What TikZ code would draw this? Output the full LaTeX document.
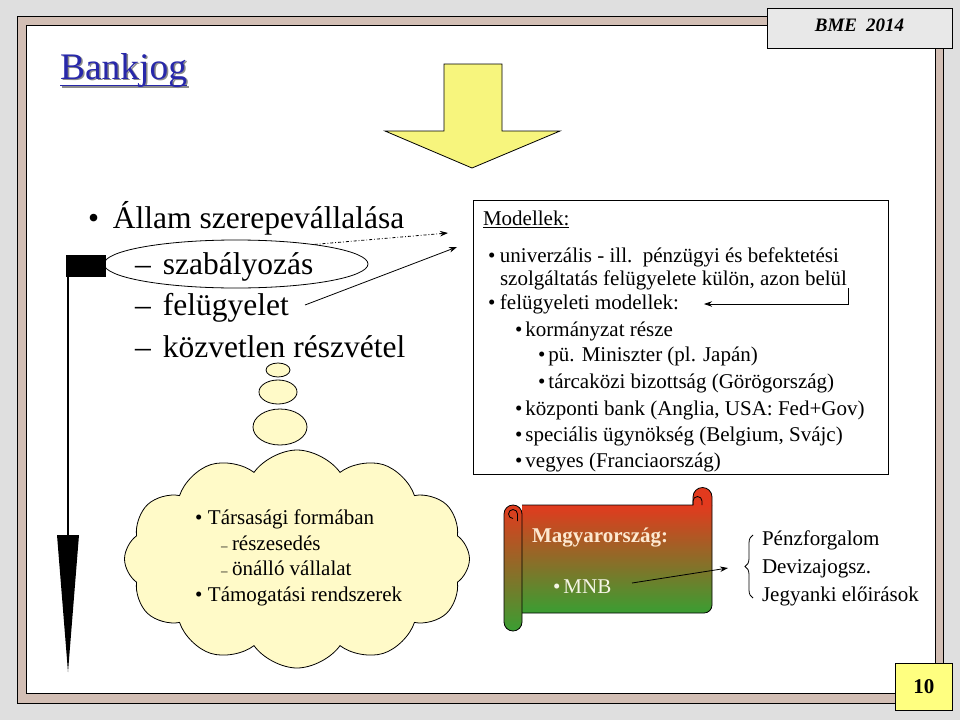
\documentclass[tikz,border=0pt]{standalone}
\usepackage{fontspec}
\setmainfont{Liberation Serif}
\usetikzlibrary{shapes.symbols,shapes.geometric,arrows.meta,decorations.pathreplacing}
\definecolor{bggray}{RGB}{223,223,223}
\definecolor{frametan}{RGB}{210,190,180}
\definecolor{titleblue}{RGB}{40,40,170}
\definecolor{arrowyellow}{RGB}{247,245,125}
\definecolor{cloudfill}{RGB}{255,250,200}
\definecolor{scrollred}{RGB}{226,58,30}
\definecolor{scrollgreen}{RGB}{58,158,50}
\definecolor{boxgray}{RGB}{232,232,232}
\definecolor{numyellow}{RGB}{255,255,128}
\definecolor{cream}{RGB}{253,232,208}
\definecolor{mnbwhite}{RGB}{245,245,230}
\newcommand{\myfs}[1]{\fontsize{#1}{#1}\selectfont}
\begin{document}
\begin{tikzpicture}[x=1pt,y=-1pt,
  txt/.style={anchor=base west, inner sep=0pt, outer sep=0pt},
  big/.style={txt, font=\myfs{31.5}},
  mid/.style={txt, font=\myfs{21}},
  conn/.style={-{Stealth[length=8pt,width=5.5pt]}, line width=0.8pt},
  outline/.style={draw=black, line width=0.8pt},
  bubble/.style={outline, fill=cloudfill},
  scrollshade/.style={top color=scrollred, bottom color=scrollgreen, middle color=scrollred!50!scrollgreen},
]
\useasboundingbox (0,0) rectangle (960,720);
\fill[bggray] (0,0) rectangle (960,720);
% frame
\filldraw[fill=frametan, outline] (17,16) rectangle (943,703);
\filldraw[fill=white, outline] (26,25) rectangle (935,693);

% BME box
\node (bmebox) [outline, fill=boxgray, minimum width=185, minimum height=40, anchor=north west, inner sep=0pt] at (767,8) {};
\node (bme) [txt, font=\myfs{19}\bfseries\itshape, anchor=base] at (859.5,31) {BME\hspace{9pt}2014};

% page number
\node (pnum) [outline, fill=numyellow, minimum width=57, minimum height=47, anchor=north west, inner sep=0pt, font=\myfs{21}\bfseries] at (895,663) {10};

% title with shadow
\node (titleshadow) [txt, font=\myfs{37.5}, text=black!45] at (61.5,80.5) {Bankjog};
\draw[black!45, line width=1.8pt] (61.5,87) -- (188.5,87);
\node (title) [txt, font=\myfs{37.5}, text=titleblue] at (60,79) {Bankjog};
\draw[titleblue, line width=1.8pt] (60,85.5) -- (187,85.5);

% yellow arrow
\filldraw[fill=arrowyellow, outline] (444,64) -- (502,64) -- (502,131) -- (560,131) -- (472,168) -- (385,131) -- (444,131) -- cycle;

% left list
\node (allam) [big] at (88,228) {\makebox[25pt][l]{•}Állam szerepevállalása};
\node (szab) [big] at (135,274) {\makebox[28pt][l]{–}szabályozás};
\node (felu) [big] at (135,315) {\makebox[28pt][l]{–}felügyelet};
\node (kozv) [big] at (135,357) {\makebox[28pt][l]{–}közvetlen részvétel};
\node (szabell) [ellipse, outline, minimum width=264, minimum height=48, inner sep=0pt] at (236,264) {};

% left black bar and arrow
\fill (66,255) rectangle (106,277);
\draw[line width=2.5pt] (68,276) -- (68,540);
\fill (57,535) -- (79,535) -- (68,672) -- cycle;

% models box
\node (models) [outline, fill=white, minimum width=415, minimum height=274, anchor=north west, inner sep=0pt] at (473,200) {};
\node (mh) [mid] at (483,225) {\underline{Modellek:}};
\node (m1) [mid] at (488,262) {\makebox[12pt][l]{•}univerzális - ill.\ \ pénzügyi és befektetési};
\node (m1b) [mid] at (500,285) {szolgáltatás felügyelete külön, azon belül};
\node (m2) [mid] at (488,309) {\makebox[12pt][l]{•}felügyeleti modellek:};
\node (m3) [mid] at (515,336) {\makebox[10.5pt][l]{•}kormányzat része};
\node (m4) [mid] at (538,361) {\makebox[10.5pt][l]{•}pü. Miniszter (pl. Japán)};
\node (m5) [mid] at (538,388) {\makebox[10.5pt][l]{•}tárcaközi bizottság (Görögország)};
\node (m6) [mid] at (515,415) {\makebox[10.5pt][l]{•}központi bank (Anglia, USA: Fed+Gov)};
\node (m7) [mid] at (515,441) {\makebox[10.5pt][l]{•}speciális ügynökség (Belgium, Svájc)};
\node (m8) [mid] at (515,467) {\makebox[10.5pt][l]{•}vegyes (Franciaország)};

% arrows to models
\coordinate (ddtip) at (448,233);
\coordinate (sdstart) at (305,305);
\coordinate (sdtip) at (457,247);
\draw[conn, dash dot] (szabell.14) -- (ddtip);
\draw[conn] (sdstart) -- (sdtip);
\coordinate (belul) at (848,288);
\coordinate (fmtip) at (704,304);
\draw[conn] (belul) |- (fmtip);

% thought bubbles
\filldraw[bubble] (278,370) ellipse [x radius=12, y radius=7];
\filldraw[bubble] (278,392) ellipse [x radius=19, y radius=12];
\filldraw[bubble] (280,427) ellipse [x radius=27, y radius=18];

% cloud
\node (cloud) [cloud, cloud puffs=12, cloud puff arc=110, cloud ignores aspect, bubble, minimum width=345, minimum height=218, inner sep=0pt] at (297,559) {};
\node (c1) [mid] at (195,524) {\makebox[13pt][l]{•}Társasági formában};
\node (c2) [mid] at (221,550) {\makebox[11pt][l]{\myfs{13}–}részesedés};
\node (c3) [mid] at (221,575) {\makebox[11pt][l]{\myfs{13}–}önálló vállalat};
\node (c4) [mid] at (195,601) {\makebox[13pt][l]{•}Támogatási rendszerek};

% scroll
\fill[scrollred] (693,505) -- (693,497) arc[start angle=180, end angle=360, radius=9.5] -- (712,506) -- cycle;
\begin{scope}
\clip (522,505) -- (693,505) -- (693,497) arc[start angle=180, end angle=360, radius=9.5] -- (712,605) arc[start angle=0, end angle=90, radius=8] -- (522,613) -- cycle;
\shade[scrollshade] (500,505) rectangle (715,613);
\end{scope}
\begin{scope}
\clip (504,514) arc[start angle=180, end angle=360, radius=9] -- (522,622) arc[start angle=0, end angle=180, radius=9] -- cycle;
\shade[scrollshade] (500,505) rectangle (715,631);
\end{scope}
\draw[outline] (522,505) -- (693,505) -- (693,497) arc[start angle=180, end angle=360, radius=9.5] -- (712,605) arc[start angle=0, end angle=90, radius=8] -- (522,613);
\draw[outline] (504,514) arc[start angle=180, end angle=360, radius=9] -- (522,622) arc[start angle=0, end angle=180, radius=9] -- cycle;
\draw[outline] (513,518.5) arc[start angle=90, end angle=360, radius=4.5] -- (517.5,521);
\draw[outline] (693,505) -- (693,501) arc[start angle=180, end angle=360, radius=4.5] -- (702,505);
\node (mo) [txt, font=\myfs{21}\bfseries, text=cream] at (532,542) {Magyarország:};
\node (mnb) [txt, font=\myfs{21}, text=mnbwhite] at (553,593) {\makebox[10.5pt][l]{•}MNB};
\coordinate (mnbstart) at (632,583);
\coordinate (mnbtip) at (728,568);
\draw[conn] (mnbstart) -- (mnbtip);

% brace and list
\coordinate (brbot) at (753,598);
\coordinate (brtop) at (753,535);
\draw[decorate, decoration={brace, amplitude=8pt}, line width=0.8pt] (brbot) -- (brtop);
\node (pf) [mid] at (762,545) {Pénzforgalom};
\node (dj) [mid] at (762,573) {Devizajogsz.};
\node (je) [mid] at (762,601) {Jegyanki előirások};
\end{tikzpicture}
\end{document}
